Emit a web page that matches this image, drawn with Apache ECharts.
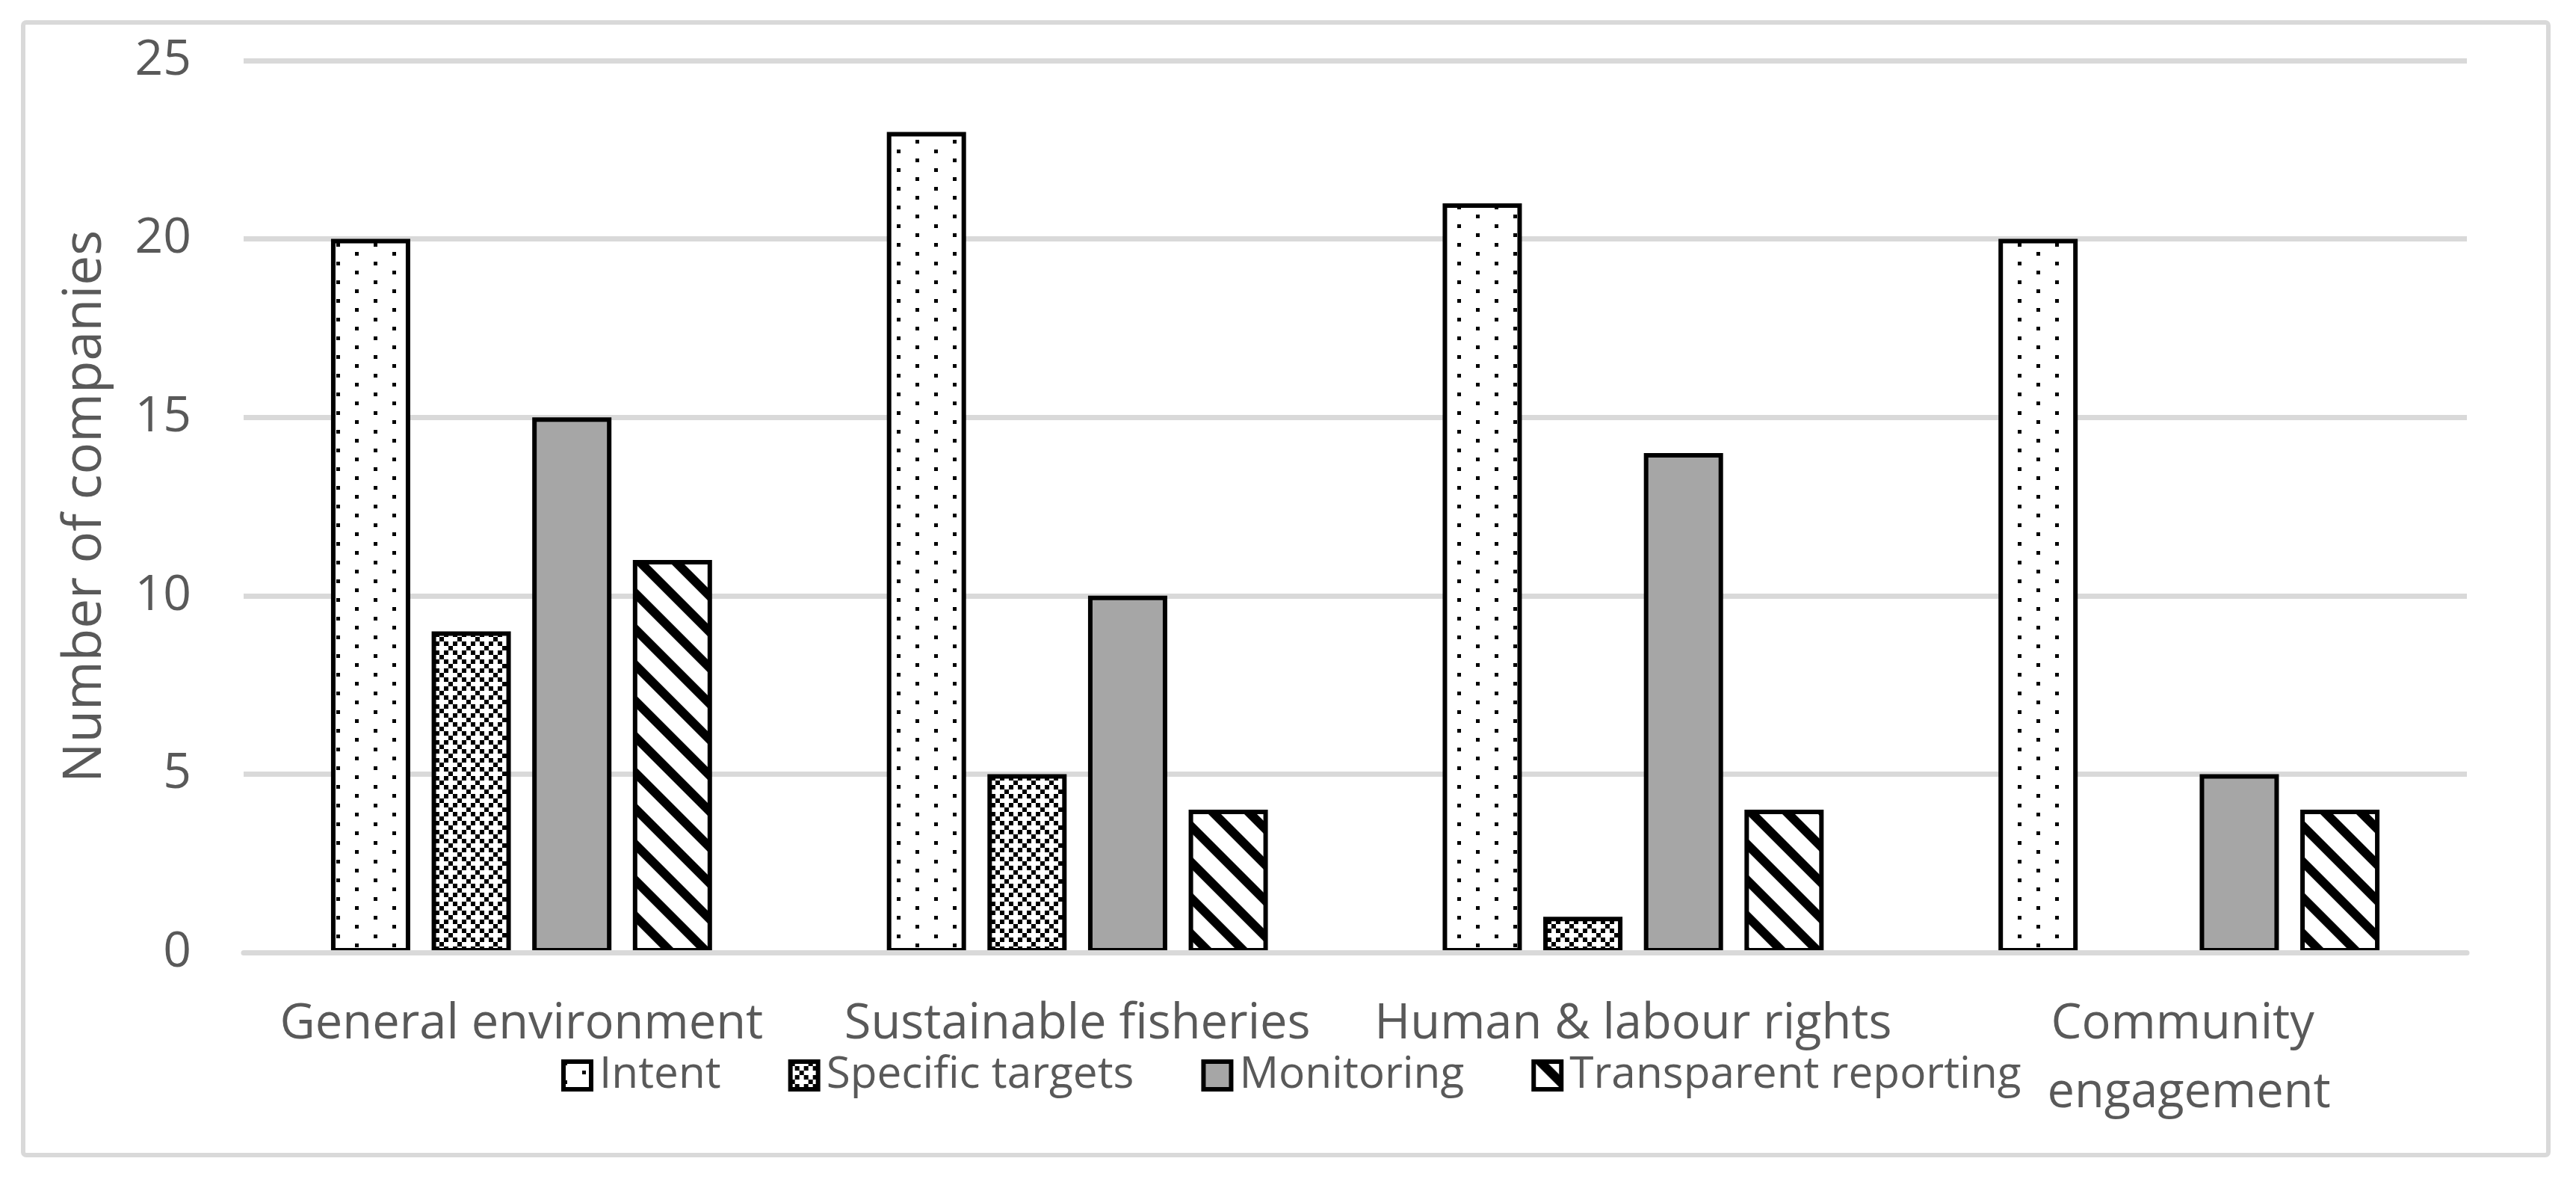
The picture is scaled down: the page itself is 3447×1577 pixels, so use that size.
<!DOCTYPE html>
<html>
<head>
<meta charset="utf-8">
<script src="https://cdn.jsdelivr.net/npm/echarts@6/dist/echarts.min.js"></script>
<style>
html,body{margin:0;padding:0;background:#fff;}
#chart{width:3447px;height:1577px;}
</style>
</head>
<body>
<div id="chart"></div>
<script>
const categories = ['General environment', 'Sustainable fisheries', 'Human & labour rights', 'Community engagement'];
const seriesNames = ['Intent', 'Specific targets', 'Monitoring', 'Transparent reporting'];
const intent = [20, 23, 21, 20];
const specificTargets = [9, 5, 1, 0];
const monitoring = [15, 10, 14, 5];
const transparentReporting = [11, 4, 4, 4];
const yMin = 0, yMax = 25, yInterval = 5;
const yTitle = 'Number of companies';

function tile(w, h, draw) {
  const c = document.createElement('canvas');
  c.width = w; c.height = h;
  const ctx = c.getContext('2d');
  ctx.fillStyle = '#fff';
  ctx.fillRect(0, 0, w, h);
  ctx.fillStyle = '#000';
  draw(ctx);
  return { image: c, repeat: 'repeat' };
}
const dotPattern = tile(50, 25, ctx => {
  ctx.fillRect(0, 0, 5, 5);
  ctx.fillRect(25, 12, 5, 5);
});
const diamondPattern = tile(24, 24, ctx => {
  const cells = [[0,0],[1,1],[2,2],[3,3],[1,3],[3,1]];
  cells.forEach(([i, j]) => ctx.fillRect(i * 6, j * 6, 6, 6));
});
const stripePattern = tile(48, 48, ctx => {
  [-48, 0, 48].forEach(k => {
    ctx.beginPath();
    ctx.moveTo(k, 0);
    ctx.lineTo(k + 17, 0);
    ctx.lineTo(k + 17 + 48, 48);
    ctx.lineTo(k + 48, 48);
    ctx.closePath();
    ctx.fill();
  });
});
const fills = [dotPattern, diamondPattern, '#a6a6a6', stripePattern];
const values = [intent, specificTargets, monitoring, transparentReporting];

const chart = echarts.init(document.getElementById('chart'), null, { renderer: 'canvas' });
const textColor = '#595959';
const font = '"Open Sans", "Noto Sans", sans-serif';

chart.setOption({
  animation: false,
  backgroundColor: '#fff',
  graphic: [{
    type: 'rect',
    shape: { x: 31, y: 30, width: 3379, height: 1515, r: 4 },
    style: { fill: 'none', stroke: '#d9d9d9', lineWidth: 6 },
    silent: true
  }],
  grid: { left: 326, right: 146, top: 81, bottom: 303, outerBoundsMode: 'none', containLabel: false },
  legend: {
    data: seriesNames,
    left: 751,
    top: 1409,
    padding: 0,
    itemWidth: 37,
    itemHeight: 37,
    itemGap: 90,
    icon: 'rect',
    itemStyle: { borderColor: '#000', borderWidth: 6 },
    textStyle: { color: textColor, fontSize: 58.5, fontFamily: font, padding: [0, 0, 0, 6] }
  },
  xAxis: {
    type: 'category',
    data: categories,
    z: 5,
    axisLine: { show: true, lineStyle: { color: '#d9d9d9', width: 7 } },
    axisTick: { show: false },
    axisLabel: {
      color: textColor, fontSize: 65, fontFamily: font, margin: 50,
      width: 720, overflow: 'break', lineHeight: 92, interval: 0
    }
  },
  yAxis: {
    type: 'value',
    min: yMin, max: yMax, interval: yInterval,
    name: yTitle,
    nameLocation: 'middle',
    nameGap: 176,
    nameTextStyle: { color: textColor, fontSize: 71, fontFamily: font },
    axisLine: { show: false },
    axisTick: { show: false },
    axisLabel: { color: textColor, fontSize: 66, fontFamily: font, margin: 70 },
    splitLine: { lineStyle: { color: '#d9d9d9', width: 7 } }
  },
  series: seriesNames.map((name, i) => ({
    name: name,
    type: 'bar',
    data: values[i],
    barWidth: 106,
    barGap: '27%',
    itemStyle: { color: fills[i], borderColor: '#000', borderWidth: 6 }
  }))
});
</script>
</body>
</html>
